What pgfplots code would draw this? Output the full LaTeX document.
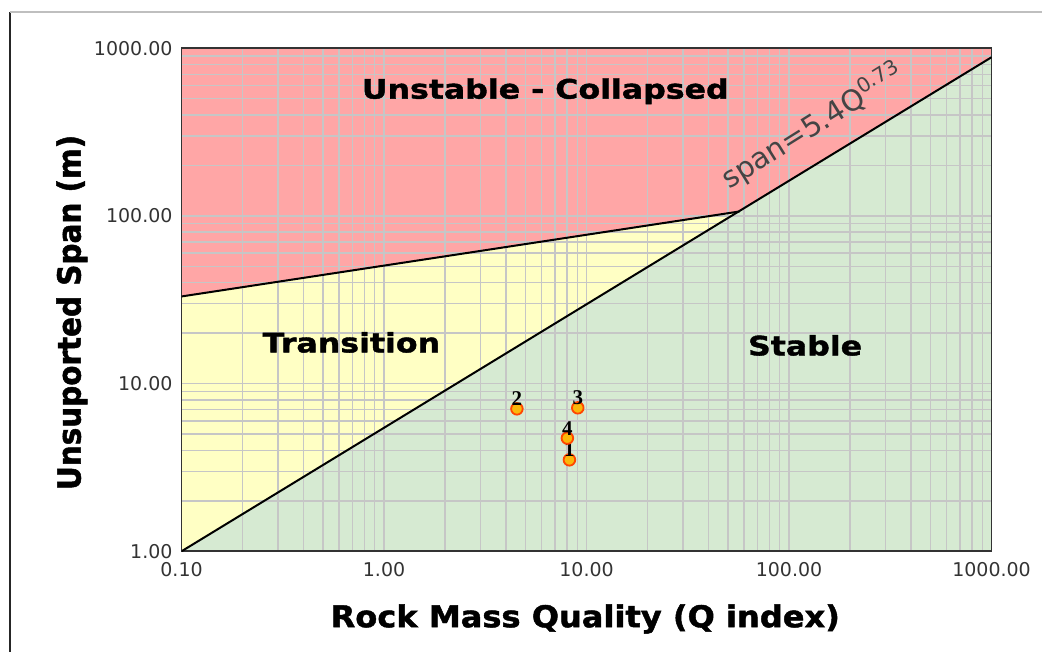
\documentclass[border=0pt]{standalone}
\usepackage{pgfplots}
\pgfplotsset{compat=1.18}
\usepackage{fontspec}
\setmainfont{DejaVu Sans}
\newfontfamily\blkX[FakeStretch=1.07,FakeBold=1.5]{DejaVu Sans}
\newfontfamily\blkR[FakeStretch=1.18,FakeBold=1.5]{DejaVu Sans}
\newfontfamily\blkY[FakeStretch=0.92,FakeBold=1.5]{DejaVu Sans}
\newfontfamily\ser{Liberation Serif}
\definecolor{unst}{HTML}{FFA6A6}
\definecolor{trans}{HTML}{FFFFC4}
\definecolor{stab}{HTML}{D6EAD2}
\definecolor{gridc}{HTML}{C6C6C6}
\definecolor{tickc}{HTML}{333333}
\definecolor{spanc}{HTML}{444444}
\begin{document}
\begin{tikzpicture}
\path (-90.85pt,-50.15pt) rectangle (430.65pt,275.85pt);
\begin{axis}[
  set layers,
  at={(0pt,0pt)}, anchor=south west,
  scale only axis, width=405.3pt, height=251.7pt,
  xmode=log, ymode=log,
  xmin=0.1, xmax=1000, ymin=1, ymax=1000,
  xtick={0.1,1,10,100,1000},
  xticklabels={0.10,1.00,10.00,100.00,1000.00},
  ytick={1,10,100,1000},
  yticklabels={1.00,10.00,100.00,1000.00},
  minor xtick={0.2,0.3,0.4,0.5,0.6,0.7,0.8,0.9,2,3,4,5,6,7,8,9,20,30,40,50,60,70,80,90,200,300,400,500,600,700,800,900},
  minor ytick={2,3,4,5,6,7,8,9,20,30,40,50,60,70,80,90,200,300,400,500,600,700,800,900},
  grid=both,
  major grid style={draw=gridc, line width=0.7pt},
  minor grid style={draw=gridc, line width=0.7pt},
  major tick length=0pt, minor tick length=0pt,
  axis line style={draw=black!80, line width=0.8pt},
  tick label style={font=\fontsize{9.5}{11}\selectfont, text=tickc},
  xticklabel style={yshift=-1.8pt},
  yticklabel style={xshift=-1pt},
  /pgf/number format/assume math mode=true,
]
% regions
\addplot[on layer=axis background, draw=none, fill=unst]
  coordinates {(0.1,1000) (1000,1000) (1000,884) (56.9,106.3) (0.1,33.1)} -- cycle;
\addplot[on layer=axis background, draw=none, fill=trans]
  coordinates {(0.1,33.1) (56.9,106.3) (0.1,1)} -- cycle;
\addplot[on layer=axis background, draw=none, fill=stab]
  coordinates {(0.1,1) (1000,884) (1000,1)} -- cycle;
% boundaries
\addplot[black, line width=1pt] coordinates {(0.1,1) (1000,884)};
\addplot[black, line width=1pt] coordinates {(0.1,33.1) (56.9,106.3)};
% sites
\addplot[only marks, mark=*, mark size=2.9pt,
  mark options={fill=yellow!45!orange, draw=orange!55!red, line width=0.9pt},
  nodes near coords, point meta=explicit symbolic,
  nodes near coords style={anchor=south, inner sep=1pt, text=black,
    font=\ser\bfseries\fontsize{10.5}{11}\selectfont}]
  table[meta=lab] {
x y lab
8.23 3.51 1
4.53 7.07 2
9.05 7.17 3
8.04 4.73 4
};
\end{axis}
% region labels
\node[anchor=base, font=\blkR\bfseries\fontsize{13.4}{15}\selectfont] at (182pt,226.5pt) {Unstable - Collapsed};
\node[anchor=base, font=\blkR\bfseries\fontsize{13.4}{15}\selectfont] at (85pt,99.5pt) {Transition};
\node[anchor=base, font=\blkR\bfseries\fontsize{13.4}{15}\selectfont] at (312pt,98pt) {Stable};
\node[anchor=base west, rotate=32, inner sep=0pt, text=spanc, font=\fontsize{14.5}{16}\selectfont] at (274pt,180.85pt) {span=5.4Q\textsuperscript{0.73}};
% axis titles
\node[anchor=base, font=\blkX\bfseries\fontsize{15}{17}\selectfont] at (202pt,-38pt) {Rock Mass Quality (Q index)};
\node[anchor=base, rotate=90, font=\blkY\bfseries\fontsize{16}{18}\selectfont] at (-50.5pt,119.5pt) {Unsuported Span (m)};
% frame
\draw[black!85, line width=1pt] (-85.85pt,269.85pt) -- (-85.85pt,-50.15pt);
\draw[black!25, line width=0.8pt] (-85.85pt,269.85pt) -- (430.65pt,269.85pt);
\end{tikzpicture}
\end{document}
